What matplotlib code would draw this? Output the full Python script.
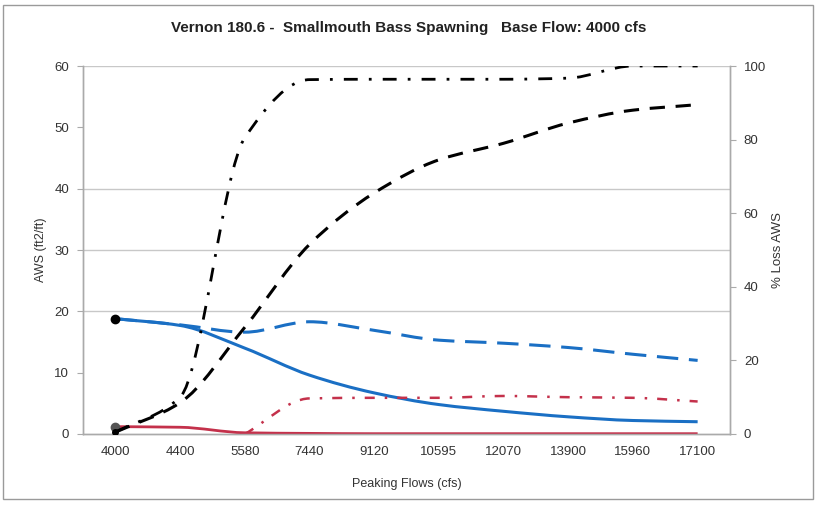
import matplotlib
matplotlib.use("Agg")
import matplotlib.pyplot as plt
from matplotlib.path import Path
from matplotlib.patches import PathPatch, Rectangle
import numpy as np

plt.rcParams['font.family'] = ['Liberation Sans', 'DejaVu Sans']

categories = ["4000", "4400", "5580", "7440", "9120", "10595", "12070", "13900", "15960", "17100"]
aws_blue_solid = [18.8, 17.7, 14.0, 9.6, 6.7, 4.8, 3.7, 2.8, 2.2, 2.0]
aws_blue_dashed = [18.8, 17.8, 16.6, 18.3, 16.9, 15.3, 14.8, 14.1, 13.0, 12.0]
aws_red_solid = [1.2, 1.1, 0.2, 0.1, 0.05, 0.05, 0.05, 0.05, 0.05, 0.05]
aws_red_dashdot = [0.0, 0.0, 0.0, 5.8, 5.9, 5.9, 6.2, 6.0, 5.9, 5.3]
loss_black_dashdot = [0.5, 10.0, 80.5, 96.3, 96.4, 96.4, 96.4, 96.7, 100.0, 100.0]
loss_black_dashed = [0.5, 8.5, 29.0, 51.5, 65.5, 74.5, 79.0, 84.5, 88.0, 89.5]

BLUE = "#1a6fc4"
RED = "#c4314b"


def smooth_path(xs, ys):
    """Monotone (PCHIP-style) cubic Bezier through the data points."""
    xs = np.asarray(xs, float)
    ys = np.asarray(ys, float)
    n = len(xs)
    d = np.diff(ys) / np.diff(xs)
    m = np.zeros(n)
    m[0], m[-1] = d[0], d[-1]
    for k in range(1, n - 1):
        if d[k - 1] * d[k] <= 0:
            m[k] = 0.0
        else:
            m[k] = 2.0 / (1.0 / d[k - 1] + 1.0 / d[k])
    verts = [(xs[0], ys[0])]
    codes = [Path.MOVETO]
    for i in range(n - 1):
        h = xs[i + 1] - xs[i]
        c1 = (xs[i] + h / 3.0, ys[i] + m[i] * h / 3.0)
        c2 = (xs[i + 1] - h / 3.0, ys[i + 1] - m[i + 1] * h / 3.0)
        verts += [c1, c2, (xs[i + 1], ys[i + 1])]
        codes += [Path.CURVE4] * 3
    return Path(verts, codes)


def draw(ax, xs, ys, color, ls, lw=2.0, start=0):
    p = smooth_path(xs[start:], ys[start:])
    patch = PathPatch(p, facecolor="none", edgecolor=color, linestyle=ls, lw=lw,
                      capstyle="butt", zorder=3)
    ax.add_patch(patch)


fig = plt.figure(figsize=(8.18, 5.05), dpi=100)
fig.patches.append(Rectangle((0.004, 0.012), 0.99, 0.978, transform=fig.transFigure,
                             fill=False, edgecolor="#9a9a9a", lw=1.0))

ax = fig.add_axes([0.1015, 0.1406, 0.7909, 0.7287])
ax2 = ax.twinx()

x = np.arange(len(categories))
ax.set_xlim(-0.5, len(categories) - 0.5)
ax.set_ylim(0, 60)
ax2.set_ylim(0, 100)

for gv in [20, 30, 40, 60]:
    ax.axhline(gv, color="#c8c8c8", lw=1.0, zorder=1)

draw(ax, x, aws_blue_solid, BLUE, "-", 2.2)
draw(ax, x, aws_blue_dashed, BLUE, (0, (7, 3.5)), 2.2)
draw(ax, x, aws_red_solid, RED, "-", 2.0)
draw(ax, x, aws_red_dashdot, RED, (0, (4, 4, 1, 4)), 1.8, start=2)
draw(ax2, x, loss_black_dashdot, "black", (0, (5, 4, 1, 4)), 2.0)
draw(ax2, x, loss_black_dashed, "black", (0, (5, 3.5)), 2.2)

ax.plot(x[0], aws_blue_solid[0], "o", color="black", ms=6, zorder=5)
ax.plot(x[0], aws_red_solid[0], "o", color="#555555", ms=6, zorder=5)
ax2.plot(x[0], loss_black_dashed[0], "o", color="black", ms=4, zorder=5)

ax.set_xticks(x)
ax.set_xticklabels(categories)
ax.tick_params(axis="x", which="major", length=0, pad=9, labelsize=9.5, labelcolor="#333333")
ax.set_yticks(np.arange(0, 61, 10))
ax.tick_params(axis="y", length=4, color="#aaaaaa", labelsize=9.5, labelcolor="#333333", pad=6)
ax2.set_yticks(np.arange(0, 101, 20))
ax2.tick_params(axis="y", length=4, color="#aaaaaa", labelsize=9.5, labelcolor="#333333", pad=6)

for a in (ax, ax2):
    a.spines["top"].set_visible(False)
    for s in ("left", "right", "bottom"):
        a.spines[s].set_color("#aaaaaa")
        a.spines[s].set_linewidth(1.0)

ax.set_ylabel("AWS (ft2/ft)", fontsize=9, color="#333333", labelpad=5)
ax2.set_ylabel("% Loss AWS", fontsize=9.5, color="#333333", labelpad=4)
ax.set_xlabel("Peaking Flows (cfs)", fontsize=9, color="#333333", labelpad=14)

fig.text(0.5, 0.945, "Vernon 180.6 -  Smallmouth Bass Spawning   Base Flow: 4000 cfs",
         ha="center", va="center", fontsize=11, fontweight="bold", color="#222222")

fig.savefig("out.png", dpi=100)
